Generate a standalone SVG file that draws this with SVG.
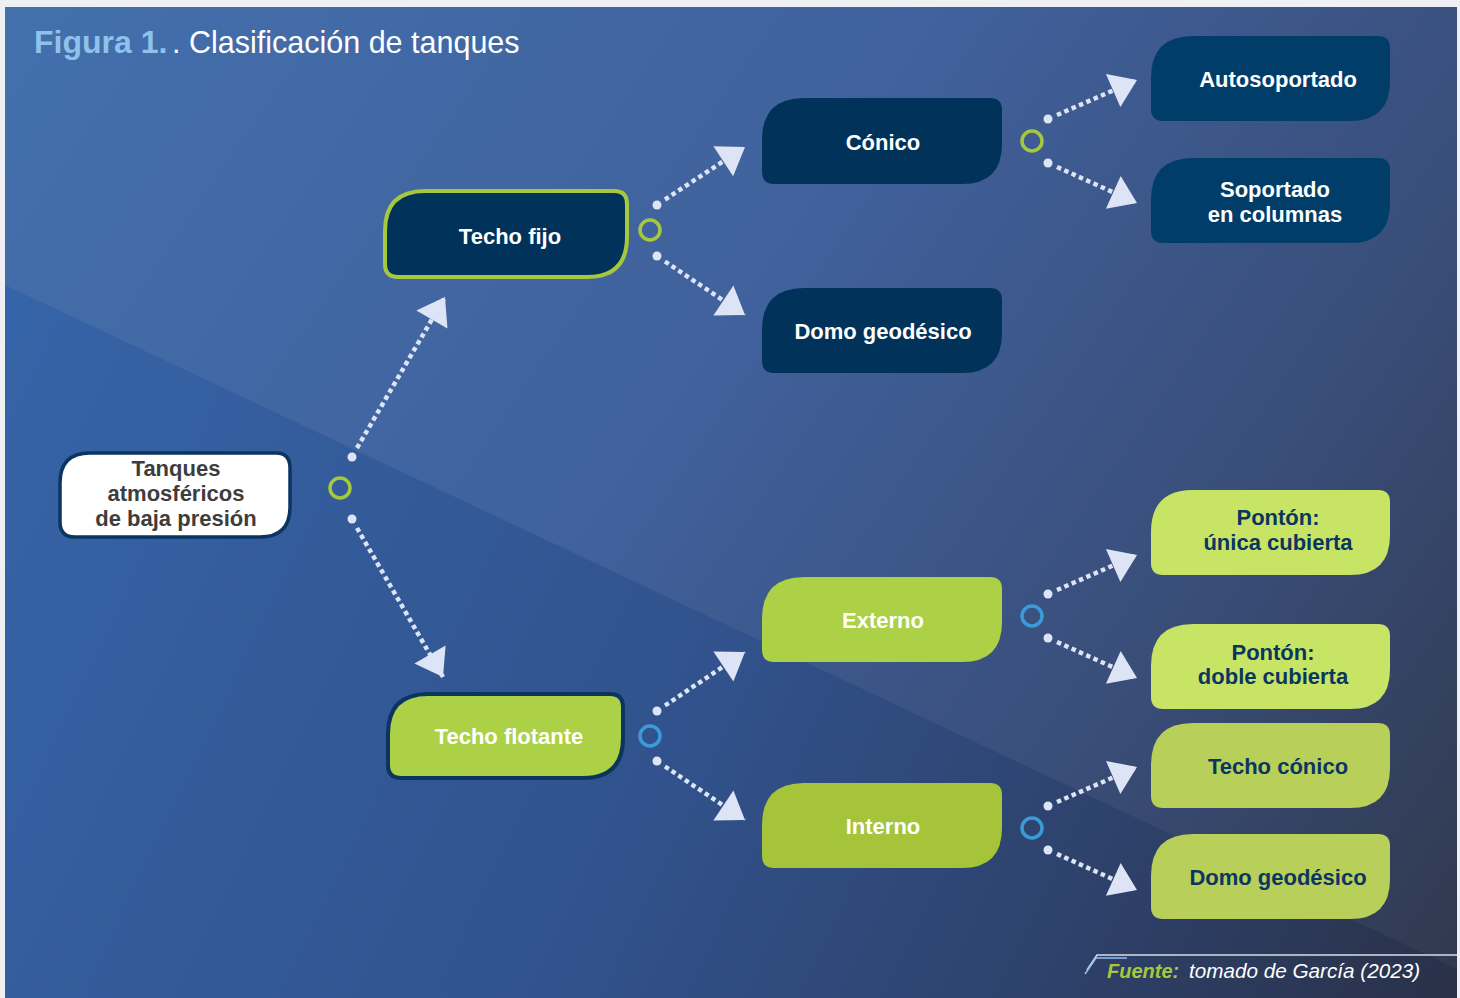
<svg xmlns="http://www.w3.org/2000/svg" width="1460" height="998" viewBox="0 0 1460 998">
<defs>
<linearGradient id="bgUp" gradientUnits="userSpaceOnUse" x1="0" y1="0" x2="1460" y2="998">
<stop offset="0" stop-color="#4370ad"/>
<stop offset="0.45" stop-color="#40619c"/>
<stop offset="0.75" stop-color="#394d78"/>
<stop offset="1" stop-color="#30384c"/>
</linearGradient>
<linearGradient id="bgLow" gradientUnits="userSpaceOnUse" x1="5" y1="300" x2="1457" y2="998">
<stop offset="0" stop-color="#3664a8"/>
<stop offset="0.5" stop-color="#31528c"/>
<stop offset="0.8" stop-color="#2d3f66"/>
<stop offset="1" stop-color="#2a3148"/>
</linearGradient>
<marker id="ah" markerUnits="userSpaceOnUse" markerWidth="30" markerHeight="40" viewBox="0 -20 28 40" refX="26" refY="0" orient="auto">
<path d="M0,-18 L26,0 L0,18 Z" fill="#dde4f5"/>
</marker>
</defs>
<style>
.lbl{font-family:"Liberation Sans",Arial,sans-serif;font-weight:bold;font-size:22px;text-anchor:middle}
.w{fill:#ffffff}
.n{fill:#0b3660}
.g{fill:#3d3d3d}
.ringG{fill:none;stroke:#a6c83c;stroke-width:3.5}
.ringB{fill:none;stroke:#3b9ad8;stroke-width:3.5}
.dot{fill:#dde4f5}
.con{fill:none;stroke:#dde4f5;stroke-width:4.5;stroke-dasharray:4.5 3.5;marker-end:url(#ah)}
</style>
<rect x="0" y="0" width="1460" height="998" fill="#eef0f3"/>
<rect x="5" y="7" width="1452" height="991" fill="url(#bgUp)"/>
<polygon points="5,285 1457,969 1457,998 5,998" fill="url(#bgLow)"/>

<g id="title">
<text x="34" y="53" font-family="Liberation Sans,Arial,sans-serif" font-weight="bold" font-size="32" fill="#8fc1ea">Figura 1.</text>
<text x="172" y="53" font-family="Liberation Sans,Arial,sans-serif" font-size="30.5" fill="#ffffff">. Clasificación de tanques</text>
</g>

<g id="connectors">
<circle class="ringG" cx="340" cy="488" r="10"/>
<circle class="dot" cx="352" cy="457" r="4.5"/>
<circle class="dot" cx="352" cy="519" r="4.5"/>
<line class="con" x1="357" y1="448" x2="445" y2="297"/>
<line class="con" x1="357" y1="528" x2="443" y2="677"/>

<circle class="ringG" cx="650" cy="230" r="10"/>
<circle class="dot" cx="657" cy="205" r="4.5"/>
<circle class="dot" cx="657" cy="256" r="4.5"/>
<line class="con" x1="665" y1="199.5" x2="745" y2="147"/>
<line class="con" x1="665" y1="261.5" x2="745" y2="315"/>

<circle class="ringB" cx="650" cy="736" r="10"/>
<circle class="dot" cx="657" cy="711" r="4.5"/>
<circle class="dot" cx="657" cy="761" r="4.5"/>
<line class="con" x1="665" y1="705.5" x2="745" y2="652"/>
<line class="con" x1="665" y1="766.5" x2="745" y2="820"/>

<circle class="ringG" cx="1032" cy="141" r="10"/>
<circle class="dot" cx="1048" cy="119" r="4.5"/>
<circle class="dot" cx="1048" cy="163" r="4.5"/>
<line class="con" x1="1057" y1="115" x2="1137" y2="80"/>
<line class="con" x1="1057" y1="167" x2="1137" y2="203"/>

<circle class="ringB" cx="1032" cy="616" r="10"/>
<circle class="dot" cx="1048" cy="594" r="4.5"/>
<circle class="dot" cx="1048" cy="638" r="4.5"/>
<line class="con" x1="1057" y1="590" x2="1137" y2="555"/>
<line class="con" x1="1057" y1="642" x2="1137" y2="678"/>

<circle class="ringB" cx="1032" cy="828" r="10"/>
<circle class="dot" cx="1048" cy="806" r="4.5"/>
<circle class="dot" cx="1048" cy="850" r="4.5"/>
<line class="con" x1="1057" y1="802" x2="1137" y2="767"/>
<line class="con" x1="1057" y1="854" x2="1137" y2="890"/>
</g>

<g id="n-tanques">
<path d="M90,453 H276 Q290,453 290,468 V507 Q290,537 260,537 H75 Q60,537 60,522 V483 Q60,453 90,453 Z" fill="#ffffff" stroke="#0a3560" stroke-width="3.5"/>
<text class="lbl g" x="176" y="476">Tanques</text>
<text class="lbl g" x="176" y="501">atmosféricos</text>
<text class="lbl g" x="176" y="526">de baja presión</text>
</g>

<g id="n-techofijo">
<path d="M425,191 H614 Q627,191 627,204 V237 Q627,277 587,277 H398 Q385,277 385,264 V231 Q385,191 425,191 Z" fill="#00325a" stroke="#a6c83c" stroke-width="4"/>
<text class="lbl w" x="510" y="244">Techo fijo</text>
</g>

<g id="n-conico">
<path d="M804,98 H990 Q1002,98 1002,110 V144 Q1002,184 962,184 H774 Q762,184 762,172 V140 Q762,98 804,98 Z" fill="#00325a"/>
<text class="lbl w" x="883" y="150">Cónico</text>
</g>

<g id="n-domo1">
<path d="M804,288 H990 Q1002,288 1002,300 V333 Q1002,373 962,373 H774 Q762,373 762,361 V330 Q762,288 804,288 Z" fill="#00325a"/>
<text class="lbl w" x="883" y="339">Domo geodésico</text>
</g>

<g id="n-autosoportado">
<path d="M1193,36 H1378 Q1390,36 1390,48 V81 Q1390,121 1350,121 H1163 Q1151,121 1151,109 V78 Q1151,36 1193,36 Z" fill="#003d68"/>
<text class="lbl w" x="1278" y="87">Autosoportado</text>
</g>

<g id="n-soportado">
<path d="M1193,158 H1378 Q1390,158 1390,170 V203 Q1390,243 1350,243 H1163 Q1151,243 1151,231 V200 Q1151,158 1193,158 Z" fill="#003d68"/>
<text class="lbl w" x="1275" y="197">Soportado</text>
<text class="lbl w" x="1275" y="222">en columnas</text>
</g>

<g id="n-techoflotante">
<path d="M428,694 H610 Q623,694 623,707 V738 Q623,778 583,778 H401 Q388,778 388,765 V734 Q388,694 428,694 Z" fill="#acd046" stroke="#0a3560" stroke-width="4"/>
<text class="lbl w" x="509" y="744">Techo flotante</text>
</g>

<g id="n-externo">
<path d="M804,577 H990 Q1002,577 1002,589 V622 Q1002,662 962,662 H774 Q762,662 762,650 V619 Q762,577 804,577 Z" fill="#acd046"/>
<text class="lbl w" x="883" y="628">Externo</text>
</g>

<g id="n-interno">
<path d="M804,783 H990 Q1002,783 1002,795 V828 Q1002,868 962,868 H774 Q762,868 762,856 V825 Q762,783 804,783 Z" fill="#a6c43a"/>
<text class="lbl w" x="883" y="834">Interno</text>
</g>

<g id="n-ponton1">
<path d="M1193,490 H1378 Q1390,490 1390,502 V535 Q1390,575 1350,575 H1163 Q1151,575 1151,563 V532 Q1151,490 1193,490 Z" fill="#c8e464"/>
<text class="lbl n" x="1278" y="525">Pontón:</text>
<text class="lbl n" x="1278" y="550">única cubierta</text>
</g>

<g id="n-ponton2">
<path d="M1193,624 H1378 Q1390,624 1390,636 V669 Q1390,709 1350,709 H1163 Q1151,709 1151,697 V666 Q1151,624 1193,624 Z" fill="#c8e464"/>
<text class="lbl n" x="1273" y="660">Pontón:</text>
<text class="lbl n" x="1273" y="684">doble cubierta</text>
</g>

<g id="n-techoconico">
<path d="M1193,723 H1378 Q1390,723 1390,735 V768 Q1390,808 1350,808 H1163 Q1151,808 1151,796 V765 Q1151,723 1193,723 Z" fill="#b8cf5a"/>
<text class="lbl n" x="1278" y="774">Techo cónico</text>
</g>

<g id="n-domo2">
<path d="M1193,834 H1378 Q1390,834 1390,846 V879 Q1390,919 1350,919 H1163 Q1151,919 1151,907 V876 Q1151,834 1193,834 Z" fill="#b8cf5a"/>
<text class="lbl n" x="1278" y="885">Domo geodésico</text>
</g>

<g id="source">
<polyline points="1087,970 1097,955 1457,955" fill="none" stroke="#d8dde6" stroke-width="1.5"/>
<polyline points="1085,974 1096,958 1127,958" fill="none" stroke="#8fc1ea" stroke-width="1.5"/>
<text x="1107" y="978" font-family="Liberation Sans,Arial,sans-serif" font-size="20" font-style="italic" font-weight="bold" fill="#a6c83c">Fuente:</text>
<text x="1189" y="978" font-family="Liberation Sans,Arial,sans-serif" font-size="20.7" font-style="italic" fill="#ffffff">tomado de García (2023)</text>
</g>
</svg>
